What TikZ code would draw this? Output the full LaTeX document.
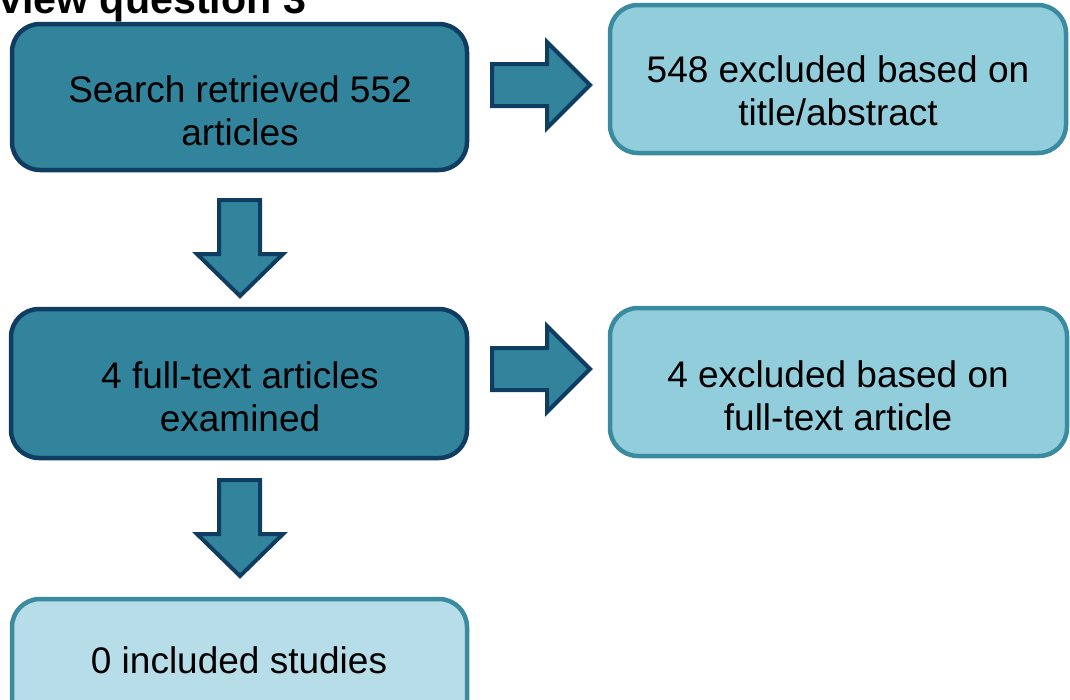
\documentclass[tikz,border=0pt]{standalone}
\usepackage{fontspec}
\setmainfont{Liberation Sans}
\definecolor{darkfill}{HTML}{31849B}
\definecolor{darkline}{HTML}{0F3D62}
\definecolor{midfill}{HTML}{92CDDC}
\definecolor{midline}{HTML}{3A8BA0}
\definecolor{lightfill}{HTML}{B7DDE8}
\tikzset{
  darkbox/.style={draw=darkline, fill=darkfill, line width=4.5pt, rounded corners=28pt},
  midbox/.style={draw=midline, fill=midfill, line width=4.5pt, rounded corners=28pt},
  lightbox/.style={draw=midline, fill=lightfill, line width=4.5pt, rounded corners=28pt},
  blockarrow/.style={draw=darkline, fill=darkfill, line width=4pt, line join=miter},
  boxtext/.style={align=center, inner sep=0pt, font=\fontsize{37}{43}\selectfont, text=black, anchor=base},
  titletext/.style={inner sep=0pt, font=\bfseries\fontsize{41.2}{48}\selectfont, anchor=base west}
}
\begin{document}
\begin{tikzpicture}[x=1pt,y=-1pt]
\useasboundingbox (0,0) rectangle (1070,699);
\begin{scope}
\clip (0,0) rectangle (1070,699);
\node[titletext] (title) at (-1,13) {view question 3};
% boxes
\path[darkbox] (12,24) rectangle (467,170);
\path[midbox] (610,5) rectangle (1066,153);
\path[darkbox] (11,309) rectangle (467,458);
\path[midbox] (610,308) rectangle (1067,456);
\path[lightbox] (12,599) rectangle (467,740);
% texts
\node[boxtext] (search) at (240,102) {Search retrieved 552};
\node[boxtext] (searchb) at (240,145) {articles};
\node[boxtext] (excl1) at (838,82) {548 excluded based on};
\node[boxtext] (excl1b) at (838,125) {title/abstract};
\node[boxtext] (full) at (240,388) {4 full-text articles};
\node[boxtext] (fullb) at (240,431) {examined};
\node[boxtext] (excl2) at (838,387) {4 excluded based on};
\node[boxtext] (excl2b) at (838,430) {full-text article};
\node[boxtext] (incl) at (239,673) {0 included studies};
% right arrows
\path[blockarrow] (492,64) -- (547,64) -- (547,42) -- (590,85) -- (547,128) -- (547,106) -- (492,106) -- cycle;
\path[blockarrow] (492,348) -- (547,348) -- (547,326) -- (590,369) -- (547,412) -- (547,390) -- (492,390) -- cycle;
% down arrows
\path[blockarrow] (219,200) -- (260,200) -- (260,254) -- (283,254) -- (240,296) -- (197,254) -- (219,254) -- cycle;
\path[blockarrow] (219,480) -- (260,480) -- (260,534) -- (283,534) -- (240,576) -- (197,534) -- (219,534) -- cycle;
\end{scope}
\end{tikzpicture}
\end{document}
